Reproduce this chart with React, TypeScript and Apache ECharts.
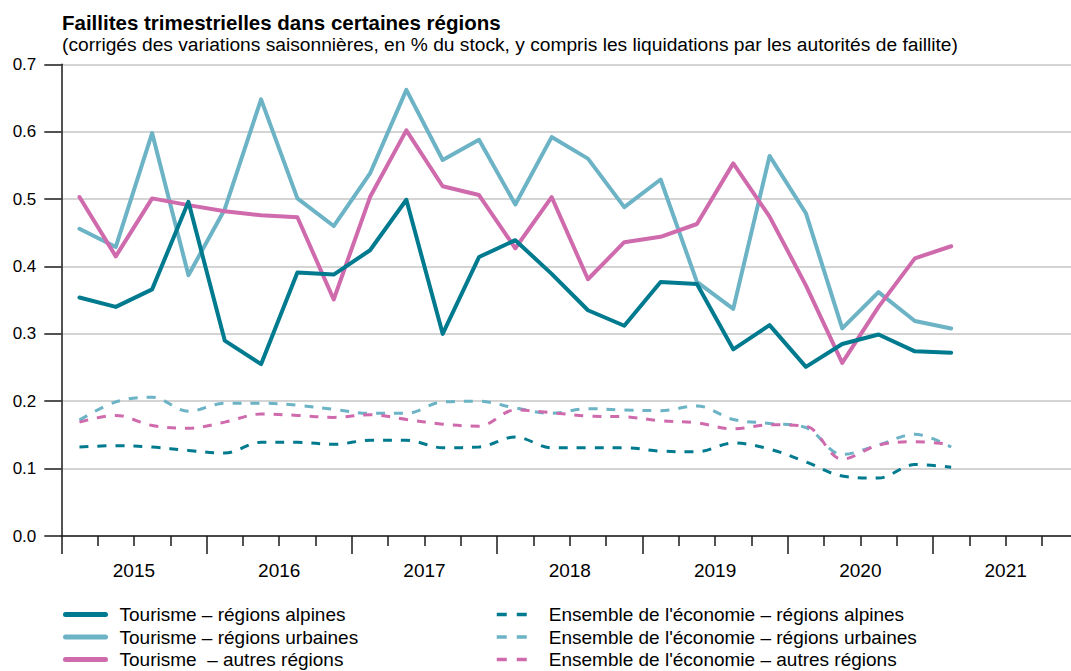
import React, { useEffect, useRef } from "react";
import * as echarts from "echarts";

// Quarters 2015Q1 .. 2021Q1
const years = [2015, 2016, 2017, 2018, 2019, 2020, 2021];
const quarterCount = 28; // axis spans 2015Q1 .. 2021Q4

const tourismAlpine = [0.354, 0.340, 0.366, 0.496, 0.290, 0.255, 0.391, 0.388, 0.424, 0.499, 0.300, 0.414, 0.439, 0.389, 0.335, 0.312, 0.377, 0.374, 0.277, 0.313, 0.251, 0.285, 0.299, 0.274, 0.272];
const tourismUrban = [0.456, 0.429, 0.598, 0.387, 0.485, 0.648, 0.501, 0.460, 0.538, 0.662, 0.558, 0.588, 0.492, 0.592, 0.560, 0.488, 0.529, 0.377, 0.337, 0.564, 0.479, 0.308, 0.362, 0.319, 0.308];
const tourismOther = [0.503, 0.415, 0.501, 0.491, 0.482, 0.476, 0.473, 0.351, 0.503, 0.602, 0.519, 0.506, 0.427, 0.503, 0.381, 0.436, 0.444, 0.463, 0.553, 0.474, 0.372, 0.257, 0.340, 0.412, 0.430];
const economyAlpine = [0.132, 0.134, 0.132, 0.127, 0.123, 0.139, 0.139, 0.136, 0.142, 0.142, 0.131, 0.132, 0.147, 0.131, 0.131, 0.131, 0.126, 0.125, 0.138, 0.129, 0.110, 0.089, 0.086, 0.106, 0.102];
const economyUrban = [0.172, 0.199, 0.206, 0.185, 0.197, 0.197, 0.194, 0.188, 0.182, 0.182, 0.199, 0.200, 0.190, 0.182, 0.189, 0.187, 0.186, 0.193, 0.173, 0.167, 0.161, 0.121, 0.135, 0.151, 0.132];
const economyOther = [0.169, 0.179, 0.164, 0.160, 0.169, 0.181, 0.179, 0.176, 0.180, 0.173, 0.166, 0.163, 0.187, 0.183, 0.178, 0.177, 0.171, 0.168, 0.159, 0.165, 0.163, 0.114, 0.135, 0.140, 0.136];

const names = {
  ta: "Tourisme – régions alpines",
  tu: "Tourisme – régions urbaines",
  to: "Tourisme  – autres régions",
  ea: "Ensemble de l'économie – régions alpines",
  eu: "Ensemble de l'économie – régions urbaines",
  eo: "Ensemble de l'économie – autres régions",
};

const DARK = "#007a8e";
const LIGHT = "#6bb3c5";
const PINK = "#cf6aad";

const FONT = "'Liberation Sans', Arial, Helvetica, sans-serif";

const toPoints = (arr: number[]) => arr.map((v, i) => [i + 0.5, v]);

export default function App() {
  const ref = useRef<HTMLDivElement>(null);

  useEffect(() => {
    if (!ref.current) return;
    const chart = echarts.init(ref.current, undefined, { renderer: "svg" });

    const solid = (name: string, data: number[], color: string) => ({
      name,
      type: "line",
      data: toPoints(data),
      symbol: "none",
      xAxisIndex: 0,
      yAxisIndex: 0,
      lineStyle: { color, width: 4, cap: "round", join: "round" },
      itemStyle: { color },
      z: 3,
    });
    const dashed = (name: string, data: number[], color: string) => ({
      name,
      type: "line",
      data: toPoints(data),
      symbol: "none",
      smooth: 0.35,
      xAxisIndex: 0,
      yAxisIndex: 0,
      lineStyle: { color, width: 3, type: [9, 9] },
      itemStyle: { color },
      z: 2,
    });

    const hiddenSymbol = { color: "rgba(0,0,0,0)", borderWidth: 0, opacity: 0 };

    chart.setOption({
      animation: false,
      textStyle: { fontFamily: FONT },
      title: [
        {
          text: "Faillites trimestrielles dans certaines régions",
          left: 62,
          top: 12,
          padding: 0,
          textStyle: { fontSize: 20.5, fontWeight: "bold", color: "#000", lineHeight: 20, fontFamily: FONT },
        },
        {
          text: "(corrigés des variations saisonnières, en % du stock, y compris les liquidations par les autorités de faillite)",
          left: 62,
          top: 35,
          padding: 0,
          textStyle: { fontSize: 19.2, fontWeight: "normal", color: "#000", lineHeight: 19, fontFamily: FONT },
        },
      ],
      grid: { left: 61.3, top: 64.3, width: 1017, height: 471.7, containLabel: false },
      legend: [
        {
          orient: "vertical",
          left: 63,
          top: 605,
          padding: 0,
          itemWidth: 40,
          itemHeight: 14,
          itemGap: 3.5,
          selectedMode: false,
          data: [names.ta, names.tu, names.to],
          itemStyle: hiddenSymbol,
          lineStyle: { width: 5 },
          textStyle: { fontSize: 19, lineHeight: 19, color: "#000", padding: [0, 0, 0, 9], fontFamily: FONT },
        },
        {
          orient: "vertical",
          left: 495,
          top: 605,
          padding: 0,
          itemWidth: 30,
          itemHeight: 14,
          itemGap: 3.5,
          selectedMode: false,
          data: [names.ea, names.eu, names.eo],
          itemStyle: hiddenSymbol,
          lineStyle: { width: 3.5, type: [10, 10] },
          textStyle: { fontSize: 19, lineHeight: 19, color: "#000", padding: [0, 0, 0, 17], fontFamily: FONT },
        },
      ],
      xAxis: [
        {
          type: "value",
          min: 0,
          max: quarterCount,
          interval: 4,
          position: "bottom",
          axisLine: { show: true, onZero: false, lineStyle: { color: "#1a1a1a", width: 1.5 } },
          axisTick: { show: true, inside: false, length: 18, lineStyle: { color: "#1a1a1a", width: 1.5 } },
          minorTick: { show: true, splitNumber: 4, length: 10, lineStyle: { color: "#1a1a1a", width: 1.5 } },
          axisLabel: { show: false },
          splitLine: { show: false },
        },
        {
          type: "value",
          min: 0,
          max: quarterCount,
          interval: 2,
          position: "bottom",
          offset: 0,
          axisLine: { show: false, onZero: false },
          axisTick: { show: false },
          splitLine: { show: false },
          axisLabel: {
            show: true,
            margin: 25,
            fontSize: 19,
            color: "#000",
            fontFamily: FONT,
            formatter: (v: number) => {
              if (v % 4 !== 2) return "";
              const idx = (v - 2) / 4;
              return years[idx] !== undefined ? String(years[idx]) : "";
            },
          },
        },
      ],
      yAxis: {
        type: "value",
        min: 0,
        max: 0.7,
        interval: 0.1,
        axisLine: { show: true, lineStyle: { color: "#1a1a1a", width: 1.5 } },
        axisTick: { show: true, inside: false, length: 17, lineStyle: { color: "#1a1a1a", width: 1.5 } },
        axisLabel: {
          margin: 25,
          fontSize: 17,
          color: "#000",
          fontFamily: FONT,
          formatter: (v: number) => v.toFixed(1),
        },
        splitLine: { show: true, lineStyle: { color: "#d4d4d4", width: 2 } },
      },
      series: [
        dashed(names.ea, economyAlpine, DARK),
        dashed(names.eu, economyUrban, LIGHT),
        dashed(names.eo, economyOther, PINK),
        solid(names.tu, tourismUrban, LIGHT),
        solid(names.to, tourismOther, PINK),
        solid(names.ta, tourismAlpine, DARK),
      ],
    });

    return () => chart.dispose();
  }, []);

  return (
    <div style={{ position: "fixed", left: 0, top: 0, width: 1071, height: 671, overflow: "hidden", background: "#fff" }}>
      <div ref={ref} style={{ width: 1100, height: 671 }} />
    </div>
  );
}
